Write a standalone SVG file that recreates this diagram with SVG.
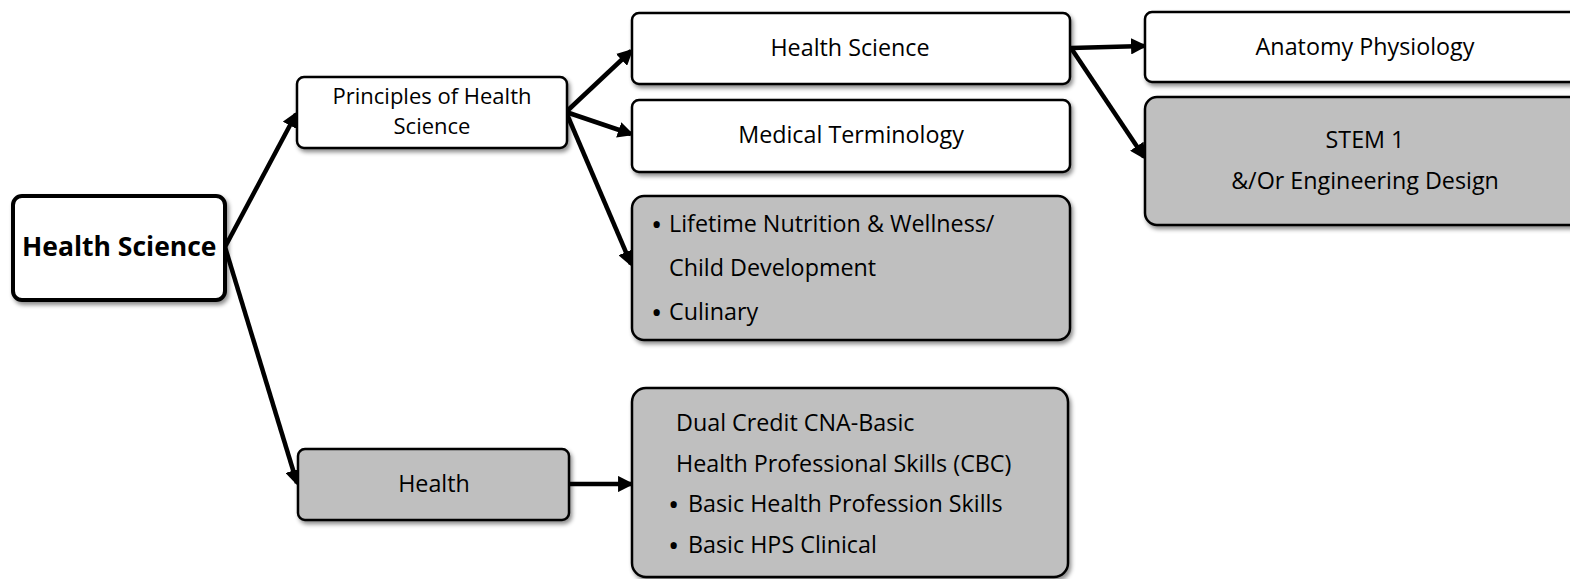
<svg xmlns="http://www.w3.org/2000/svg" width="1570" height="579" viewBox="0 0 1570 579">
<defs>
<filter id="sh" x="-10%" y="-10%" width="130%" height="140%">
<feDropShadow dx="2" dy="3" stdDeviation="2" flood-color="#000" flood-opacity="0.45"/>
</filter>
<marker id="ah" viewBox="0 0 10 10" refX="8" refY="5" markerWidth="3.6" markerHeight="3.6" orient="auto" markerUnits="strokeWidth">
<path d="M0,0 L10,5 L0,10 Z" fill="#000"/>
</marker>
</defs>
<style>
.box{fill:#fff;stroke:#000;stroke-width:2.5;filter:url(#sh)}
.gray{fill:#bfbfbf}
.root{stroke-width:4}
text{font-family:"Open Sans","Liberation Sans",sans-serif;font-size:23.3px;fill:#000}
.c{text-anchor:middle}
.p{font-size:22px}
.b{font-weight:bold;font-size:26.5px}
.bul{font-size:30px}
.con{stroke:#000;stroke-width:4.5;fill:none;marker-end:url(#ah)}
</style>
<rect width="1570" height="579" fill="#fff"/>
<g id="connectors">
<line class="con" x1="225" y1="247" x2="296" y2="114"/>
<line class="con" x1="225" y1="247" x2="297" y2="483"/>
<line class="con" x1="566" y1="112" x2="631" y2="51"/>
<line class="con" x1="566" y1="112" x2="631" y2="134"/>
<line class="con" x1="566" y1="112" x2="631" y2="264"/>
<line class="con" x1="1071" y1="48" x2="1144" y2="46"/>
<line class="con" x1="1071" y1="48" x2="1144" y2="157"/>
<line class="con" x1="569" y1="484" x2="631" y2="484"/>
</g>
<g id="n-root">
<rect class="box root" x="13" y="196" width="212" height="104" rx="9"/>
<text class="b" x="22" y="256">Health Science</text>
</g>
<g id="n-principles">
<rect class="box" x="297" y="77" width="270" height="71" rx="7"/>
<text class="c p" x="432" y="104">Principles of Health</text>
<text class="c p" x="432" y="134">Science</text>
</g>
<g id="n-hs">
<rect class="box" x="632" y="13" width="438" height="71" rx="7"/>
<text class="c" x="850" y="56">Health Science</text>
</g>
<g id="n-medterm">
<rect class="box" x="632" y="100" width="438" height="72" rx="7"/>
<text class="c" x="851" y="143">Medical Terminology</text>
</g>
<g id="n-lifetime">
<rect class="box gray" x="632" y="196" width="438" height="144" rx="12"/>
<text class="bul" x="651" y="235">•</text>
<text x="669" y="232">Lifetime Nutrition  &amp; Wellness/</text>
<text x="669" y="276">Child Development</text>
<text class="bul" x="651" y="323">•</text>
<text x="669" y="320">Culinary</text>
</g>
<g id="n-anatomy">
<rect class="box" x="1145" y="12" width="440" height="70" rx="7"/>
<text class="c" x="1365" y="55">Anatomy Physiology</text>
</g>
<g id="n-stem">
<rect class="box gray" x="1145" y="97" width="440" height="128" rx="12"/>
<text class="c" x="1365" y="148">STEM 1</text>
<text class="c" x="1365" y="189">&amp;/Or Engineering Design</text>
</g>
<g id="n-health">
<rect class="box gray" x="298" y="449" width="271" height="71" rx="7"/>
<text class="c" x="434" y="492">Health</text>
</g>
<g id="n-dual">
<rect class="box gray" x="632" y="388" width="436" height="189" rx="14"/>
<text x="676" y="431">Dual Credit CNA-Basic</text>
<text x="676" y="472">Health Professional Skills (CBC)</text>
<text class="bul" x="668" y="515">•</text>
<text x="688" y="512">Basic Health Profession Skills</text>
<text class="bul" x="668" y="556">•</text>
<text x="688" y="553">Basic HPS Clinical</text>
</g>
</svg>
